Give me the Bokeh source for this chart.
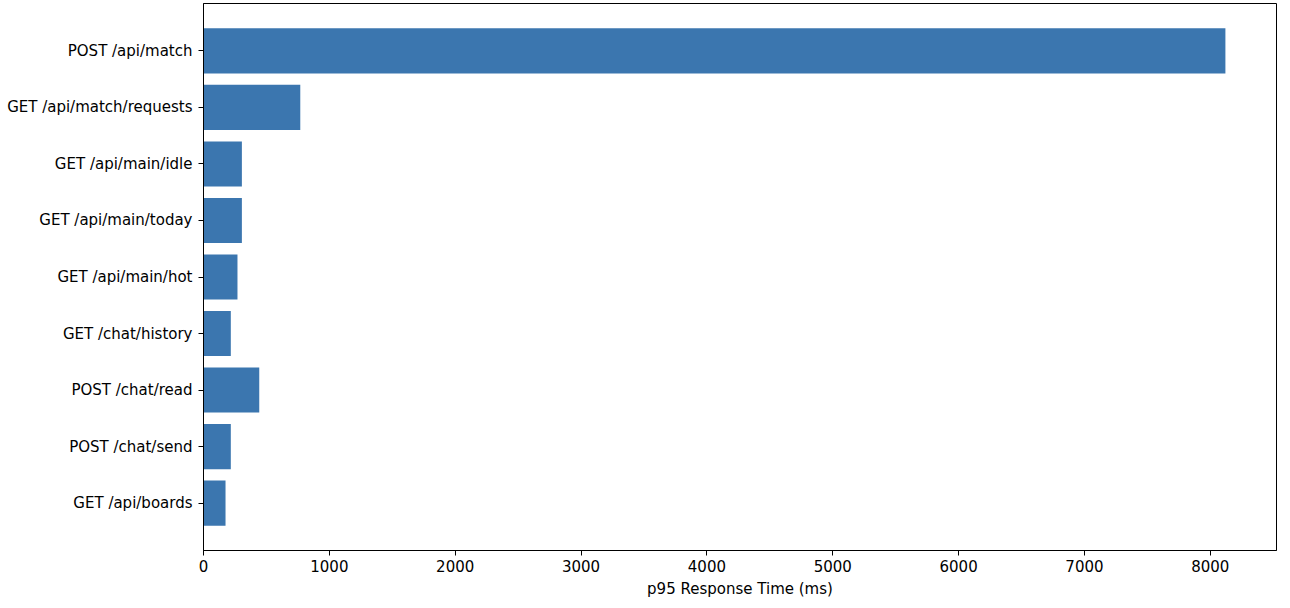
from bokeh.plotting import figure
from bokeh.models import Range1d, FixedTicker
from bokeh.embed import file_html
from bokeh.resources import INLINE

endpoints = [
    "POST /api/match",
    "GET /api/match/requests",
    "GET /api/main/idle",
    "GET /api/main/today",
    "GET /api/main/hot",
    "GET /chat/history",
    "POST /chat/read",
    "POST /chat/send",
    "GET /api/boards",
]
p95_ms = [8120, 769, 305, 305, 270, 217, 443, 217, 175]
x_ticks = [0, 1000, 2000, 3000, 4000, 5000, 6000, 7000, 8000]
x_label = "p95 Response Time (ms)"

n = len(endpoints)
pos = list(range(n))
xmax = max(p95_ms) * 1.05

p = figure(width=1282, height=600, output_backend="svg", toolbar_location=None,
           x_range=Range1d(0, xmax), y_range=Range1d(n - 1 + 0.84, -0.84),
           min_border_left=203, min_border_right=6, min_border_top=3,
           min_border_bottom=50)
p.hbar(y=pos, right=p95_ms, left=0, height=0.8, color="#3b76af", line_color=None)

p.xgrid.visible = False
p.ygrid.visible = False
p.outline_line_color = "black"
p.outline_line_width = 1

font = "DejaVu Sans"
p.xaxis.ticker = FixedTicker(ticks=x_ticks)
p.yaxis.ticker = FixedTicker(ticks=pos)
p.yaxis.major_label_overrides = {i: e for i, e in enumerate(endpoints)}
for ax in (p.xaxis[0], p.yaxis[0]):
    ax.axis_line_color = "black"
    ax.major_tick_line_color = "black"
    ax.major_tick_out = 5
    ax.major_tick_in = 0
    ax.minor_tick_line_color = None
    ax.major_label_text_font = font
    ax.major_label_text_font_size = "15px"
    ax.major_label_text_color = "black"
p.xaxis.major_label_standoff = 4
p.yaxis.major_label_standoff = 6
p.xaxis.axis_label = x_label
p.xaxis.axis_label_text_font = font
p.xaxis.axis_label_text_font_size = "15px"
p.xaxis.axis_label_text_font_style = "normal"
p.xaxis.axis_label_text_color = "black"
p.xaxis.axis_label_standoff = 5

open("out.html", "w").write(file_html(p, INLINE))
